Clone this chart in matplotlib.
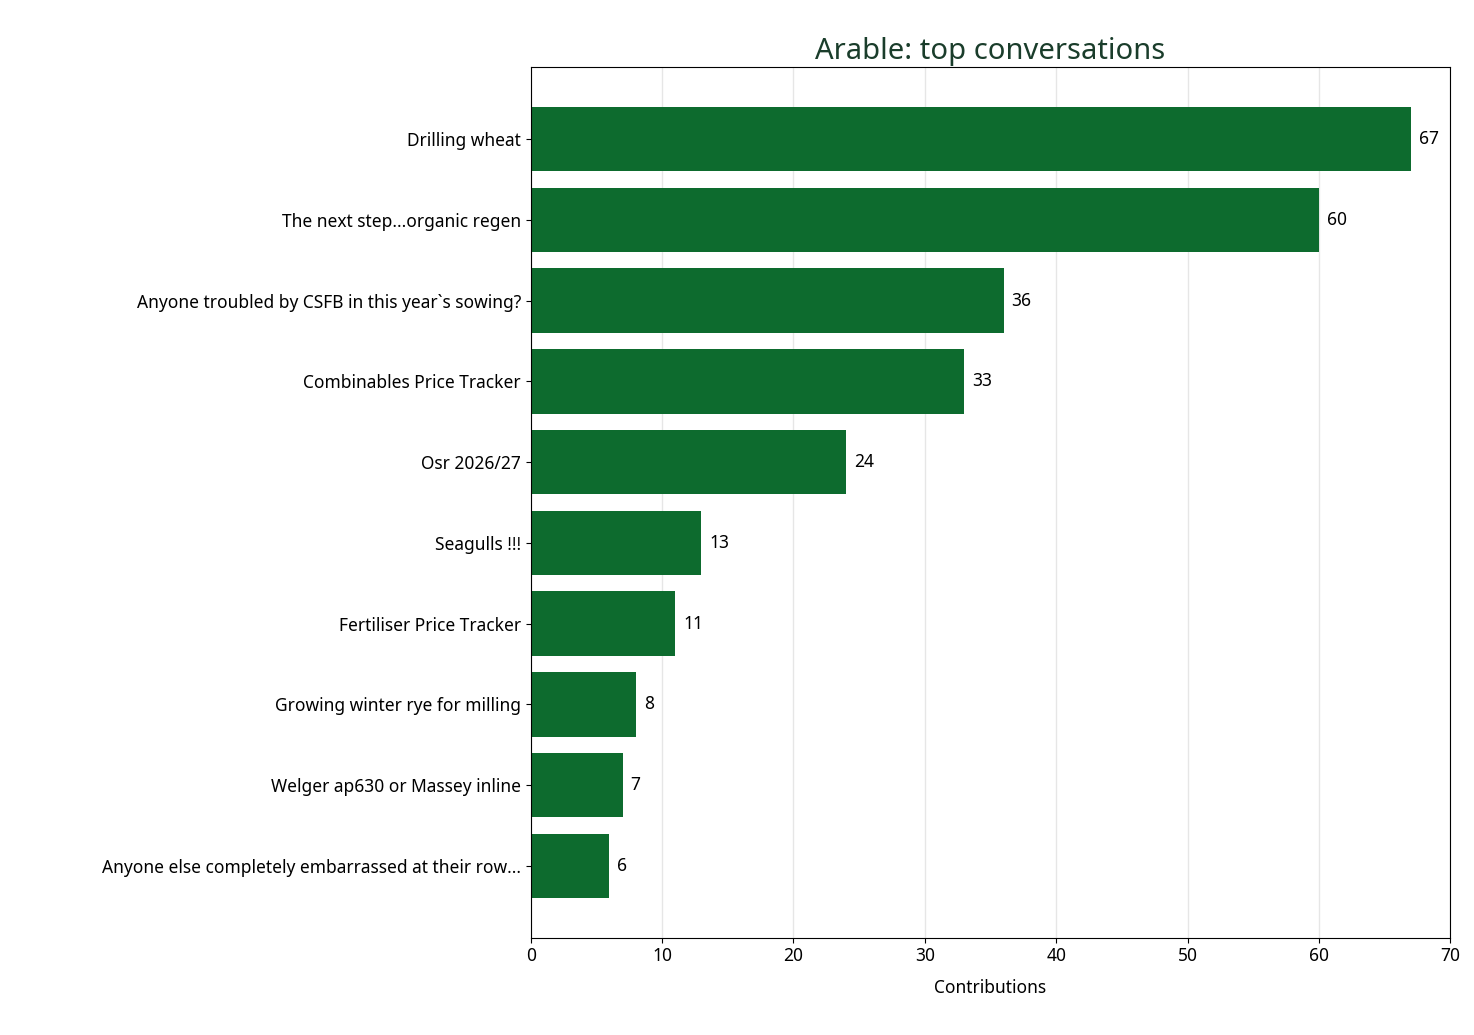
import matplotlib
matplotlib.use('Agg')
import matplotlib.pyplot as plt

plt.rcParams['font.family'] = ['Noto Sans', 'DejaVu Sans']

topics = ['Drilling wheat', 'The next step...organic regen',
          'Anyone troubled by CSFB in this year`s sowing?',
          'Combinables Price Tracker', 'Osr 2026/27', 'Seagulls !!!',
          'Fertiliser Price Tracker', 'Growing winter rye for milling',
          'Welger ap630 or Massey inline',
          'Anyone else completely embarrassed at their row...']
counts = [67, 60, 36, 33, 24, 13, 11, 8, 7, 6]

fig = plt.figure(figsize=(14.74, 10.35), dpi=100)
ax = fig.add_axes([0.360, 0.094, 0.624, 0.841])

ypos = list(range(len(topics)))[::-1]
ax.barh(ypos, counts, height=0.8, color='#0d6b2e', zorder=2)
for y, c in zip(ypos, counts):
    ax.text(c + 0.6, y, str(c), va='center', ha='left', fontsize=12.5)

ax.set_yticks(ypos)
ax.set_yticklabels(topics, fontsize=12.5)
ax.set_xlim(0, 70)
ax.set_xticks(range(0, 71, 10))
ax.tick_params(axis='x', labelsize=12.5)
ax.grid(axis='x', color='#e6e6e6', linewidth=1, zorder=0)
ax.set_xlabel('Contributions', fontsize=12.5, labelpad=10)
ax.set_title('Arable: top conversations', fontsize=21, fontweight='bold',
             color='#1a3d2b', pad=6)

fig.savefig('out.png', dpi=100)
